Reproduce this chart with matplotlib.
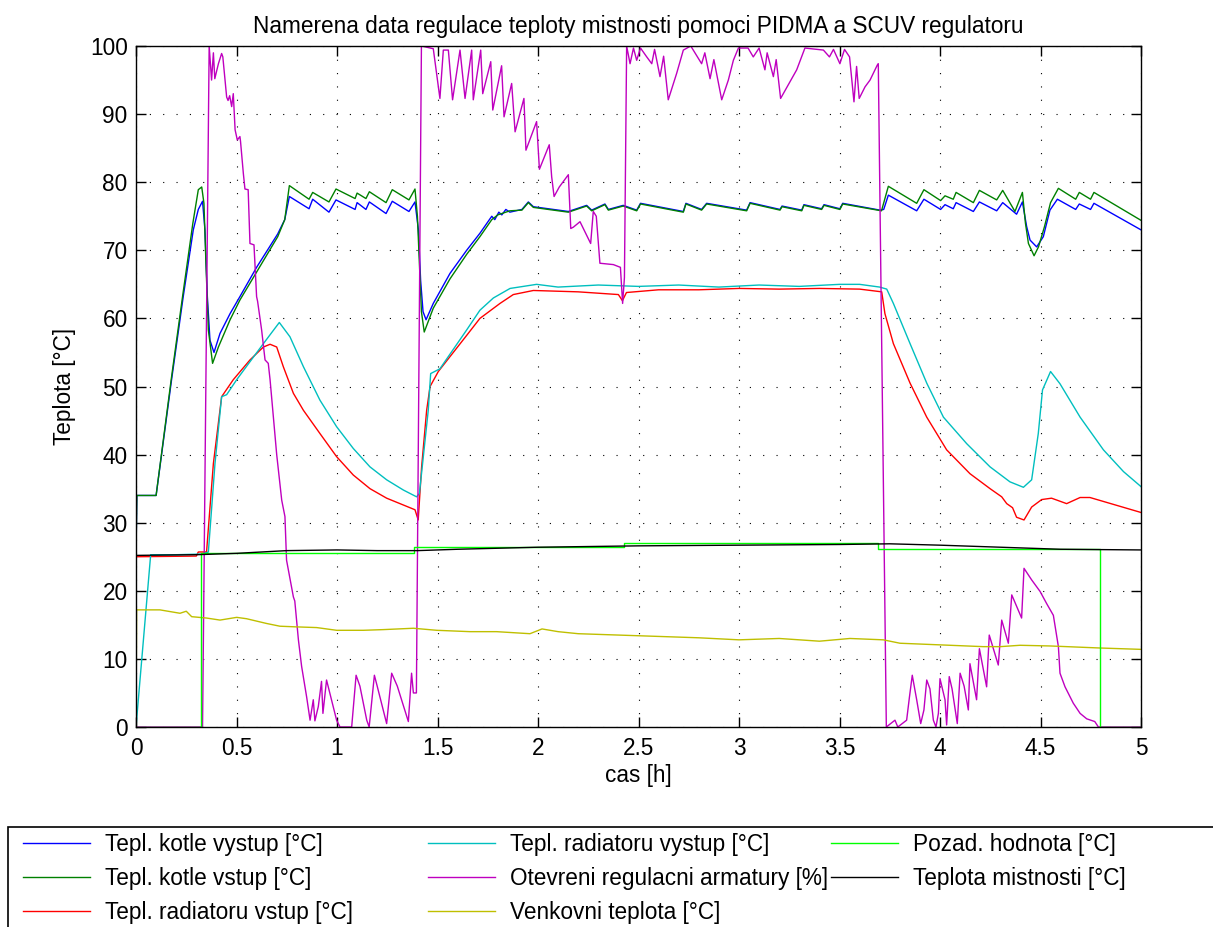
import numpy as np
import matplotlib
matplotlib.use("Agg")
import matplotlib.pyplot as plt
from matplotlib.patches import Rectangle

plt.rcParams["font.family"] = ["Liberation Sans", "DejaVu Sans"]

# ── measured data (time [h], value) ─────────────────────────
kotle_vystup = [
    (0, 25), (0.004, 34), (0.1, 34), (0.177, 51), (0.235, 63.2), (0.285, 73), (0.31, 76),
    (0.331, 77.2), (0.343, 73), (0.355, 63.2), (0.368, 56.8), (0.388, 55.0), (0.418, 57.8),
    (0.468, 60.7), (0.517, 63.2), (0.6, 67.5), (0.705, 72.4), (0.74, 74.5), (0.763, 77.9),
    (0.861, 76.1), (0.879, 77.5), (0.960, 75.6), (0.995, 77.4), (1.09, 76.0), (1.10, 77.0),
    (1.144, 76.0), (1.161, 77.1), (1.244, 75.4), (1.275, 77.2), (1.358, 75.7), (1.388, 77.1),
    (1.405, 73), (1.416, 65.6), (1.428, 61), (1.443, 59.8), (1.479, 62.2), (1.562, 66.6),
    (1.645, 70.0), (1.711, 72.5), (1.770, 75.0), (1.785, 74.5), (1.805, 75.6), (1.82, 75.2),
    (1.84, 76.0), (1.86, 75.6), (1.92, 76.0), (1.952, 77.1), (1.977, 76.4), (2.151, 75.7),
    (2.242, 76.6), (2.267, 75.9), (2.333, 76.8), (2.35, 76.0), (2.424, 76.6), (2.491, 75.9),
    (2.510, 76.9), (2.723, 75.7), (2.736, 76.9), (2.814, 76.0), (2.839, 76.9), (3.038, 75.9),
    (3.055, 77.0), (3.204, 76.0), (3.214, 76.5), (3.312, 75.9), (3.323, 76.7), (3.411, 76.1),
    (3.423, 76.7), (3.502, 76.1), (3.516, 76.9), (3.701, 75.9), (3.720, 76.0), (3.743, 78.1),
    (3.884, 75.8), (3.920, 77.5), (4.003, 76.0), (4.025, 76.7), (4.066, 76.1), (4.080, 77.0),
    (4.166, 75.7), (4.196, 77.1), (4.282, 75.8), (4.312, 77.0), (4.381, 75.3), (4.410, 77.1),
    (4.431, 73.5), (4.448, 71.5), (4.481, 70.5), (4.514, 72.0), (4.547, 75.9), (4.584, 77.5),
    (4.675, 76.0), (4.693, 76.8), (4.749, 76.0), (4.766, 76.9), (5.0, 73.0),
]
kotle_vstup = [
    (0, 25), (0.004, 34), (0.1, 34), (0.175, 51), (0.233, 63.5), (0.283, 74), (0.31, 78.9),
    (0.327, 79.3), (0.338, 76.9), (0.348, 68.1), (0.360, 58.3), (0.381, 53.4), (0.41, 55.8),
    (0.468, 59.8), (0.517, 62.7), (0.6, 66.8), (0.705, 72.0), (0.74, 74.5), (0.763, 79.5),
    (0.861, 77.5), (0.879, 78.5), (0.960, 77.1), (0.995, 79.0), (1.09, 77.6), (1.10, 78.4),
    (1.144, 77.6), (1.161, 78.6), (1.244, 77.0), (1.275, 78.9), (1.358, 77.4), (1.388, 79.0),
    (1.40, 75), (1.41, 68), (1.42, 61), (1.434, 58.0), (1.479, 61.5), (1.562, 65.8),
    (1.645, 69.4), (1.711, 72.0), (1.77, 74.5), (1.80, 75.2), (1.86, 75.8), (1.92, 75.9),
    (1.952, 77.0), (1.977, 76.3), (2.151, 75.6), (2.242, 76.5), (2.267, 75.8), (2.333, 76.7),
    (2.35, 75.9), (2.424, 76.5), (2.491, 75.8), (2.510, 76.8), (2.723, 75.6), (2.736, 76.8),
    (2.814, 75.9), (2.839, 76.8), (3.038, 75.8), (3.055, 76.9), (3.204, 75.9), (3.214, 76.4),
    (3.312, 75.8), (3.323, 76.6), (3.411, 76.0), (3.423, 76.6), (3.502, 76.0), (3.516, 76.8),
    (3.709, 75.8), (3.743, 79.4), (3.884, 76.9), (3.920, 78.9), (4.003, 77.3), (4.025, 78.0),
    (4.066, 77.5), (4.080, 78.5), (4.166, 77.0), (4.196, 78.8), (4.282, 77.4), (4.312, 78.8),
    (4.373, 75.7), (4.410, 78.5), (4.425, 74), (4.44, 71), (4.468, 69.2), (4.49, 70.5),
    (4.52, 73.5), (4.55, 77), (4.589, 79.1), (4.675, 77.5), (4.693, 78.5), (4.749, 77.5),
    (4.766, 78.5), (5.0, 74.4),
]
radiator_vstup = [
    (0, 25.0), (0.3, 25.1), (0.31, 25.7), (0.351, 25.7), (0.385, 38.7), (0.426, 48.5),
    (0.484, 51.0), (0.567, 53.9), (0.634, 55.8), (0.667, 56.2), (0.70, 55.8), (0.733, 52.9),
    (0.783, 49.0), (0.833, 46.5), (0.915, 43.1), (0.998, 39.7), (1.081, 37.0), (1.164, 35.0),
    (1.247, 33.6), (1.330, 32.6), (1.388, 31.9), (1.404, 30.4), (1.421, 38.2), (1.446, 46.5),
    (1.463, 50.0), (1.504, 52.2), (1.645, 57.5), (1.711, 60.0), (1.811, 62.2), (1.877, 63.5),
    (1.977, 64.1), (2.2, 63.9), (2.40, 63.5), (2.42, 62.6), (2.44, 63.8), (2.6, 64.2),
    (2.8, 64.2), (3.0, 64.4), (3.2, 64.3), (3.4, 64.4), (3.6, 64.3), (3.71, 63.9),
    (3.726, 60.7), (3.768, 56.3), (3.851, 50.5), (3.934, 45.5), (4.033, 40.7), (4.149, 37.2),
    (4.249, 35.0), (4.307, 33.8), (4.332, 32.8), (4.361, 32.2), (4.381, 30.8), (4.418, 30.4),
    (4.456, 32.3), (4.506, 33.4), (4.555, 33.6), (4.630, 32.8), (4.697, 33.7), (4.746, 33.7),
    (5.0, 31.5),
]
radiator_vystup = [
    (0, 0), (0.073, 25.3), (0.2, 25.3), (0.33, 25.4), (0.36, 25.7), (0.393, 38.7),
    (0.426, 48.5), (0.451, 48.8), (0.501, 51.0), (0.551, 53.0), (0.634, 56.3), (0.667, 57.6),
    (0.713, 59.4), (0.766, 57.3), (0.833, 52.9), (0.915, 48.0), (0.998, 44.1), (1.081, 40.9),
    (1.164, 38.2), (1.247, 36.3), (1.330, 34.8), (1.396, 33.8), (1.41, 34.3), (1.454, 46.5),
    (1.466, 51.9), (1.512, 52.6), (1.645, 58.3), (1.711, 61.2), (1.778, 63.0), (1.861, 64.4),
    (1.993, 65.0), (2.1, 64.6), (2.3, 64.9), (2.5, 64.7), (2.7, 64.9), (2.9, 64.6),
    (3.1, 64.9), (3.3, 64.7), (3.5, 65.0), (3.6, 65.0), (3.70, 64.6), (3.735, 64.3),
    (3.768, 62.2), (3.851, 56.3), (3.934, 50.5), (4.017, 45.5), (4.133, 41.6), (4.249, 38.2),
    (4.348, 36.0), (4.415, 35.2), (4.456, 36.3), (4.489, 43.1), (4.510, 49.5), (4.550, 52.2),
    (4.597, 50.4), (4.697, 45.5), (4.813, 40.7), (4.913, 37.5), (5.0, 35.3),
]
armatura = [
    (0, 0), (0.331, 0), (0.364, 100), (0.376, 95.0), (0.385, 99), (0.392, 95.2), (0.41, 97.4),
    (0.426, 98.9), (0.432, 98.4), (0.451, 92.5), (0.458, 92.0), (0.466, 92.7), (0.476, 91.1),
    (0.484, 93), (0.493, 87.7), (0.504, 86.2), (0.517, 86.7), (0.52, 86.0), (0.534, 81.3),
    (0.542, 79.0), (0.558, 78.9), (0.567, 71.0), (0.587, 70.8), (0.60, 63.2), (0.605, 62.5),
    (0.625, 58.3), (0.642, 53.9), (0.658, 53.4), (0.667, 51.0), (0.70, 40), (0.725, 33.3),
    (0.741, 30.9), (0.749, 24.5), (0.783, 19.1), (0.79, 18.5), (0.808, 12.8), (0.824, 8.9),
    (0.849, 4.4), (0.866, 1.0), (0.882, 4.0), (0.89, 0.9), (0.907, 3.0), (0.923, 6.7),
    (0.93, 2.0), (0.948, 6.9), (0.965, 4.9), (0.998, 1.0), (1.015, 0), (1.073, 0),
    (1.095, 7.6), (1.114, 6.0), (1.148, 1.0), (1.16, 0), (1.186, 7.6), (1.2, 6.0),
    (1.247, 0.5), (1.272, 7.9), (1.30, 6.0), (1.355, 0.8), (1.371, 7.9), (1.38, 5.0),
    (1.395, 5.0), (1.42, 100), (1.479, 99.6), (1.512, 92.3), (1.529, 99.4), (1.554, 99.4),
    (1.575, 92.1), (1.612, 99.4), (1.637, 92.3), (1.670, 99.4), (1.678, 92.1), (1.715, 99.4),
    (1.725, 93.0), (1.765, 97.7), (1.775, 90.6), (1.819, 97.1), (1.831, 89.6), (1.869, 94.5),
    (1.886, 87.4), (1.930, 92.3), (1.940, 84.7), (1.993, 88.9), (2.007, 81.9), (2.056, 85.5),
    (2.068, 80.8), (2.080, 77.9), (2.106, 79.3), (2.151, 81.1), (2.163, 73.2), (2.176, 73.4),
    (2.209, 74.2), (2.262, 71.0), (2.275, 75.7), (2.29, 75.0), (2.308, 68.1), (2.375, 67.9),
    (2.41, 67.5), (2.421, 62.2), (2.43, 66.0), (2.441, 100), (2.458, 97.4), (2.475, 99.7),
    (2.491, 97.9), (2.51, 99.7), (2.541, 98.4), (2.566, 97.4), (2.58, 99.5), (2.607, 95.5),
    (2.625, 98.5), (2.648, 92.1), (2.690, 96.0), (2.723, 99.4), (2.76, 100), (2.814, 97.4),
    (2.83, 99.0), (2.856, 95.2), (2.875, 98.0), (2.914, 92.1), (2.947, 95.0), (2.972, 97.9),
    (2.997, 99.7), (3.045, 99.7), (3.071, 98.4), (3.10, 99.7), (3.129, 96.5), (3.14, 99.0),
    (3.171, 95.5), (3.185, 98.0), (3.207, 92.3), (3.245, 94.3), (3.287, 96.5), (3.328, 99.7),
    (3.420, 99.4), (3.45, 98.4), (3.47, 99.5), (3.502, 97.4), (3.525, 99.5), (3.55, 98.4),
    (3.572, 91.8), (3.585, 97.0), (3.598, 92.3), (3.627, 94.0), (3.652, 95.0), (3.688, 97.2),
    (3.693, 97.4), (3.733, 0), (3.776, 1.0), (3.79, 0), (3.834, 1.0), (3.848, 4.4),
    (3.862, 7.6), (3.884, 4.0), (3.904, 0.5), (3.920, 2.5), (3.934, 6.9), (3.95, 5.6),
    (3.967, 1.0), (3.98, 0), (3.992, 2.0), (4.000, 7.1), (4.025, 4.0), (4.033, 0.3),
    (4.046, 7.4), (4.06, 5.6), (4.086, 0.5), (4.100, 7.9), (4.12, 6.0), (4.141, 2.5),
    (4.149, 9.3), (4.182, 4.0), (4.196, 11.5), (4.232, 5.9), (4.245, 13.5), (4.290, 9.1),
    (4.307, 15.7), (4.340, 12.3), (4.357, 19.4), (4.406, 16.0), (4.418, 23.3), (4.456, 21.6),
    (4.498, 19.9), (4.531, 18.1), (4.564, 16.4), (4.589, 11.8), (4.597, 7.9), (4.622, 5.9),
    (4.663, 3.5), (4.697, 2.0), (4.73, 1.2), (4.77, 0.8), (4.788, 0), (5.0, 0),
]
venkovni = [
    (0, 0), (0.003, 17.2), (0.119, 17.2), (0.219, 16.7), (0.25, 17.0), (0.277, 16.2),
    (0.351, 16.0), (0.418, 15.7), (0.501, 16.1), (0.55, 15.9), (0.650, 15.2), (0.716, 14.8),
    (0.800, 14.7), (0.899, 14.6), (0.998, 14.2), (1.131, 14.2), (1.230, 14.3), (1.380, 14.5),
    (1.496, 14.2), (1.662, 14.0), (1.794, 14.0), (1.960, 13.7), (2.02, 14.4), (2.1, 14.0),
    (2.2, 13.7), (2.5, 13.4), (2.8, 13.1), (3.0, 12.8), (3.2, 13.0), (3.4, 12.6),
    (3.552, 13.0), (3.718, 12.8), (3.801, 12.3), (4.050, 12.0), (4.215, 11.8), (4.30, 11.8),
    (4.398, 12.0), (4.547, 11.9), (4.796, 11.6), (5.0, 11.4),
]
pozadovana = [
    (0, 0), (0.322, 0), (0.322, 25.5), (1.385, 25.5), (1.385, 26.5), (2.43, 26.5),
    (2.43, 27.0), (3.69, 27.0), (3.69, 26.1), (4.796, 26.1), (4.796, 0), (5.0, 0),
]
mistnost = [
    (0, 25.2), (0.3, 25.3), (0.5, 25.5), (0.75, 25.9), (1.0, 26.0), (1.2, 25.9), (1.4, 25.9),
    (1.6, 26.1), (2.0, 26.4), (2.5, 26.6), (3.0, 26.7), (3.5, 26.8), (3.75, 26.9),
    (4.0, 26.7), (4.3, 26.4), (4.6, 26.1), (5.0, 26.0),
]

series = [
    (kotle_vystup, "#0000ff", "Tepl. kotle vystup [°C]"),
    (kotle_vstup, "#008000", "Tepl. kotle vstup [°C]"),
    (radiator_vstup, "#ff0000", "Tepl. radiatoru vstup [°C]"),
    (radiator_vystup, "#00bfbf", "Tepl. radiatoru vystup [°C]"),
    (armatura, "#bf00bf", "Otevreni regulacni armatury [%]"),
    (venkovni, "#bfbf00", "Venkovni teplota [°C]"),
    (pozadovana, "#00ff00", "Pozad. hodnota [°C]"),
    (mistnost, "#000000", "Teplota mistnosti [°C]"),
]

FS = 16.3
W, H = 1213, 927
fig = plt.figure(figsize=(W / 100, H / 100), dpi=100)
ax = fig.add_axes([136 / W, 1 - 727 / H, (1141 - 136) / W, (727 - 46) / H])

handles = []
for pts, col, lab in series:
    t, v = np.array(pts).T
    ln, = ax.plot(t, v, color=col, lw=1.0, label=lab)
    handles.append(ln)

ax.set_xlim(0, 5)
ax.set_ylim(0, 100)
ax.set_xticks(np.arange(0, 5.01, 0.5))
ax.set_xticklabels(["0", "0.5", "1", "1.5", "2", "2.5", "3", "3.5", "4", "4.5", "5"])
ax.set_yticks(np.arange(0, 101, 10))
ax.grid(True, color="k", linestyle=(0, (1, 11)), lw=0.8)
ax.set_axisbelow(True)
ax.tick_params(direction="in", length=7.5, width=1, top=True, right=True, labelsize=FS)
ax.tick_params(axis="x", pad=7)
ax.tick_params(axis="y", pad=6)
for s in ax.spines.values():
    s.set_linewidth(1.0)

ax.set_title("Namerena data regulace teploty mistnosti pomoci PIDMA a SCUV regulatoru",
             fontsize=FS, pad=9)
ax.set_xlabel("cas [h]", fontsize=FS, labelpad=3)
ax.set_ylabel("Teplota [°C]", fontsize=FS, labelpad=10)

# ── legend: three columns under the plot, frame runs off the figure ──
cols = [[0, 1, 2], [3, 4, 5], [6, 7]]
col_x = [23, 428, 831]
for idx, x in zip(cols, col_x):
    fig.legend([handles[i] for i in idx], [series[i][2] for i in idx],
               loc="upper left", bbox_to_anchor=(x / W, 1 - 833 / H),
               frameon=False, borderpad=0, borderaxespad=0, fontsize=FS,
               handlelength=2.95, handletextpad=0.66, labelspacing=0.48)
fig.add_artist(Rectangle((8 / W, -0.1), 1.2, 0.1 + (1 - 827 / H),
                         transform=fig.transFigure, fill=False, lw=1.2, ec="k"))

fig.savefig("out.png", dpi=100)
